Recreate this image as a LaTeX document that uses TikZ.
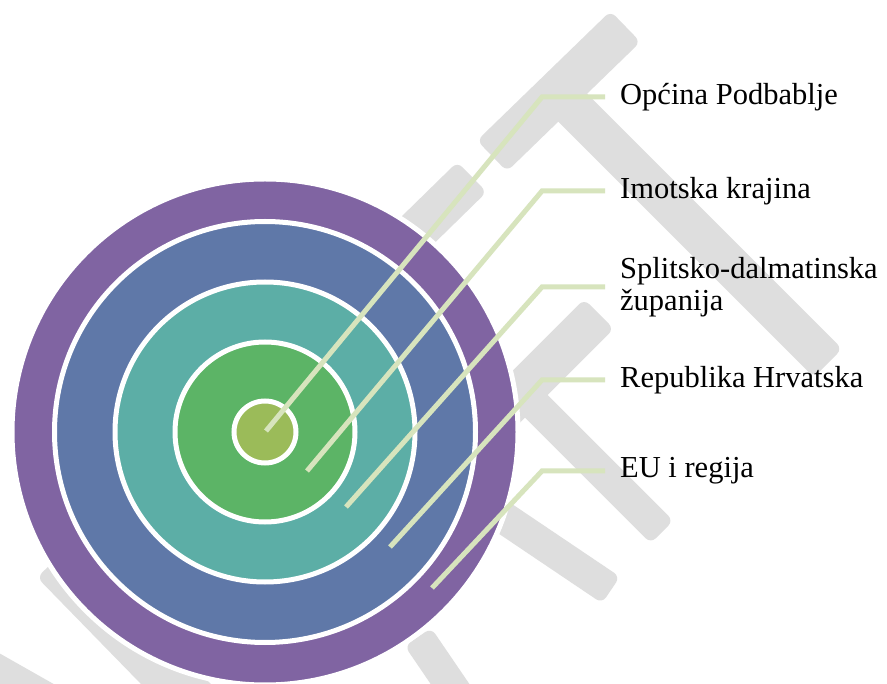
\documentclass[tikz,border=0pt]{standalone}
\usepackage{fontspec}
\setmainfont{Liberation Serif}
\usetikzlibrary{calc}
\definecolor{cPurple}{HTML}{8064A2}
\definecolor{cBlue}{HTML}{5F78A8}
\definecolor{cTeal}{HTML}{5CAEA6}
\definecolor{cGreen}{HTML}{5CB466}
\definecolor{cOlive}{HTML}{9BBB59}
\definecolor{cLine}{HTML}{D7E4BD}
\definecolor{cGrey}{HTML}{DEDEDE}
\newcommand{\wmbar}[5]{%
  \fill[cGrey, rounded corners=7pt]
    ($(#1,#2)!#5!90:(#3,#4)$) -- ($(#3,#4)!#5!-90:(#1,#2)$) --
    ($(#3,#4)!#5!90:(#1,#2)$) -- ($(#1,#2)!#5!-90:(#3,#4)$) -- cycle;}
\tikzset{
  ring/.style={draw=white, line width=5pt},
  conn/.style={draw=cLine, line width=5pt},
  lab/.style={anchor=west, inner xsep=15pt, inner ysep=0pt, align=left,
    font=\fontsize{30.5}{31.5}\selectfont, text=black}
}
\begin{document}
\begin{tikzpicture}[x=1pt, y=-1pt]
\useasboundingbox (0,0) rectangle (887,684);
\clip (0,0) rectangle (887,684);
\fill[white] (0,0) rectangle (887,684);
% watermark
\wmbar{625.5}{26.5}{492}{156}{21.5pt}
\wmbar{472}{177}{380}{267}{21pt}
\wmbar{560}{95}{828}{363}{20pt}
\wmbar{599}{314}{470}{443}{21pt}
\wmbar{525}{395}{662}{532}{16pt}
\wmbar{470}{495}{611}{590}{16pt}
\wmbar{418}{637}{480}{728}{16pt}
\wmbar{55}{560}{250}{760}{25pt}
\wmbar{-30}{655}{120}{740}{16pt}
% target
\coordinate (c) at (265,432);
\path[fill=cPurple, ring] (c) circle (253);
\path[fill=cBlue, ring] (c) circle (210.5);
\path[fill=cTeal, ring] (c) circle (150);
\path[fill=cGreen, ring] (c) circle (90);
\path[fill=cOlive, ring] (c) circle (31);
% labels
\node[lab] (l1) at (605,97) {Općina Podbablje};
\node[lab] (l2) at (605,191) {Imotska krajina};
\node[lab] (l3) at (605,287) {Splitsko-dalmatinska\\županija};
\node[lab] (l4) at (605,380) {Republika Hrvatska};
\node[lab] (l5) at (605,471) {EU i regija};
% connector points
\coordinate (s1) at (266,431); \coordinate (e1) at (542,97);
\coordinate (s2) at (307,471); \coordinate (e2) at (542,191);
\coordinate (s3) at (346,507); \coordinate (e3) at (542,287);
\coordinate (s4) at (390,547); \coordinate (e4) at (542,380);
\coordinate (s5) at (432,588); \coordinate (e5) at (542,471);
\draw[conn] (s1) -- (e1) -- (l1.west);
\draw[conn] (s2) -- (e2) -- (l2.west);
\draw[conn] (s3) -- (e3) -- (l3.west);
\draw[conn] (s4) -- (e4) -- (l4.west);
\draw[conn] (s5) -- (e5) -- (l5.west);
\end{tikzpicture}
\end{document}
